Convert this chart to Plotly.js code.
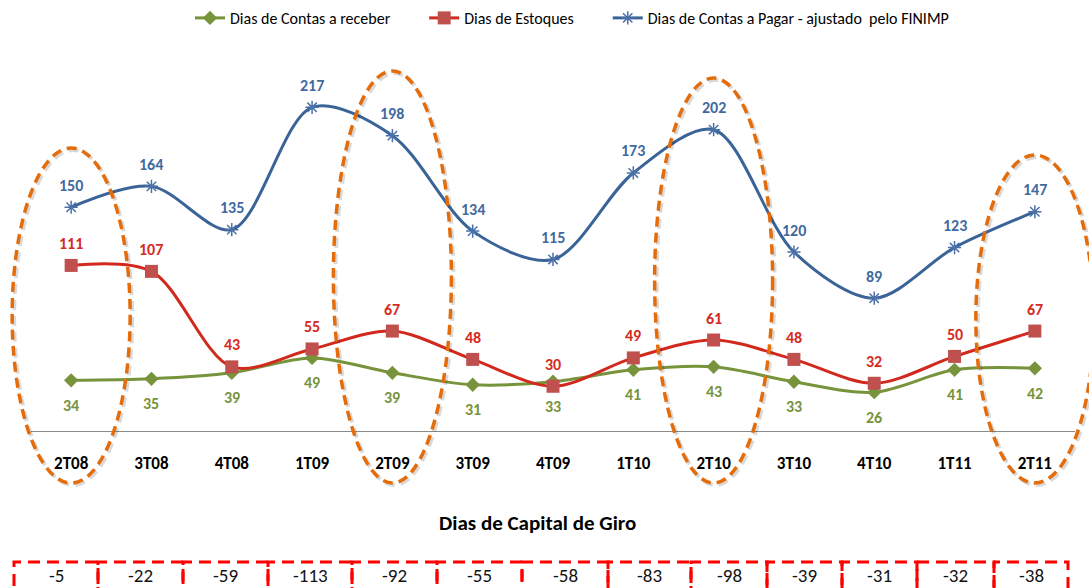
<!DOCTYPE html>
<html>
<head>
<meta charset="utf-8">
<script src="https://cdn.plot.ly/plotly-3.0.1.min.js"></script>
<style>
  html, body { margin: 0; padding: 0; background: #fff; }
  #chart { width: 1089px; height: 588px; }
</style>
</head>
<body>
<div id="chart"></div>
<script>
// quarters and the three series (days)
const quarters = ["2T08", "3T08", "4T08", "1T09", "2T09", "3T09", "4T09",
                  "1T10", "2T10", "3T10", "4T10", "1T11", "2T11"];
const diasReceber = [34, 35, 39, 49, 39, 31, 33, 41, 43, 33, 26, 41, 42];
const diasEstoques = [111, 107, 43, 55, 67, 48, 30, 49, 61, 48, 32, 50, 67];
const diasPagar = [150, 164, 135, 217, 198, 134, 115, 173, 202, 120, 89, 123, 147];
const capitalGiro = [-5, -22, -59, -113, -92, -55, -58, -83, -98, -39, -31, -32, -38];
const destaques = ["2T08", "2T09", "2T10", "2T11"];

// plot area in pixels
const W = 1089, H = 588;
const plotL = 31, plotR = 1075, plotTop = 73, plotBottom = 431;
const yMax = 240;

function px2paperX(px) { return (px - plotL) / (plotR - plotL); }
function px2paperY(py) { return (plotBottom - py) / (plotBottom - plotTop); }

const FONT = "Calibri, Carlito, Lato, sans-serif";

const green = "#77933C", red = "#D2291E", blue = "#3A6498";
const gap = "\u00A0".repeat(8);  // extra room between legend entries

const traces = [
  {
    name: "Dias de Contas a receber" + gap,
    x: quarters, y: diasReceber,
    type: "scatter", mode: "lines+markers",
    line: { color: green, width: 3, shape: "spline", smoothing: 0.9 },
    marker: { symbol: "diamond", size: 11, color: green },
  },
  {
    name: "Dias de Estoques" + gap,
    x: quarters, y: diasEstoques,
    type: "scatter", mode: "lines+markers",
    line: { color: red, width: 3, shape: "spline", smoothing: 0.9 },
    marker: { symbol: "square", size: 13, color: "#C0504D" },
  },
  {
    name: "Dias de Contas a Pagar - ajustado  pelo FINIMP",
    x: quarters, y: diasPagar,
    type: "scatter", mode: "lines+markers",
    line: { color: blue, width: 3, shape: "spline", smoothing: 0.9 },
    marker: { symbol: "asterisk-open", size: 11, color: "#4A70A8", line: { width: 1.5, color: "#4A70A8" } },
  },
];

const annotations = [];
function addLabels(values, color, shift) {
  values.forEach((v, i) => {
    annotations.push({
      x: quarters[i], y: v, xref: "x", yref: "y",
      text: String(v), showarrow: false, yshift: shift,
      font: { family: FONT, size: 16, color: color, weight: "bold" },
    });
  });
}
addLabels(diasPagar, "#3F6A9F", 22);
addLabels(diasEstoques, "#D52B1E", 22);
addLabels(diasReceber, green, -25);

annotations.push({
  x: px2paperX(537), y: px2paperY(523), xref: "paper", yref: "paper",
  xanchor: "center", yanchor: "middle",
  text: "<b>Dias de Capital de Giro</b>", showarrow: false,
  font: { family: FONT, size: 21, color: "#000" },
});

// table cells below the chart
const cellEdgesPx = [14, 98, 183, 268, 352, 437, 522, 608, 691, 767, 842, 917, 994, 1068];
const cellTopPx = 562, cellBottomPx = 610, cellTextPx = 575;

const shapes = [];
capitalGiro.forEach((v, i) => {
  const x0 = px2paperX(cellEdgesPx[i]), x1 = px2paperX(cellEdgesPx[i + 1]);
  shapes.push({
    type: "rect", xref: "paper", yref: "paper",
    x0: x0, x1: x1, y0: px2paperY(cellBottomPx), y1: px2paperY(cellTopPx),
    line: { color: "#FF0000", width: 3, dash: "12px,7px" },
  });
  annotations.push({
    x: (x0 + x1) / 2, y: px2paperY(cellTextPx), xref: "paper", yref: "paper",
    xanchor: "center", yanchor: "middle", borderpad: 0,
    text: String(v), showarrow: false,
    font: { family: FONT, size: 19, color: "#111" },
  });
});

// dashed orange ellipses around the highlighted quarters
const ellipseTopPx = [148, 71, 78, 155];
const ellipseBottomPx = 483;
const ellipseHalfPx = 59;
const slot = (plotR - plotL) / quarters.length;
destaques.forEach((q, k) => {
  const cx = plotL + (quarters.indexOf(q) + 0.5) * slot;
  const base = {
    type: "circle", xref: "paper", yref: "paper",
    x0: px2paperX(cx - ellipseHalfPx), x1: px2paperX(cx + ellipseHalfPx),
    y0: px2paperY(ellipseBottomPx), y1: px2paperY(ellipseTopPx[k]),
  };
  // soft shadow
  shapes.push(Object.assign({}, base, {
    x0: px2paperX(cx - ellipseHalfPx + 2), x1: px2paperX(cx + ellipseHalfPx + 2),
    y0: px2paperY(ellipseBottomPx + 2), y1: px2paperY(ellipseTopPx[k] + 2),
    line: { color: "rgba(0,0,0,0.15)", width: 4, dash: "10px,6px" },
  }));
  shapes.push(Object.assign({}, base, {
    line: { color: "#E46C0A", width: 3.5, dash: "10px,6px" },
  }));
});

const layout = {
  width: W, height: H,
  margin: { l: plotL, r: W - plotR, t: plotTop, b: H - plotBottom, pad: 0, autoexpand: false },
  paper_bgcolor: "#fff", plot_bgcolor: "#fff",
  font: { family: FONT, color: "#000" },
  showlegend: true,
  legend: {
    orientation: "h", x: px2paperX(572), xanchor: "center",
    yref: "container", y: 1 - 18 / H, yanchor: "middle",
    font: { family: FONT, size: 16, color: "#000" },
    itemwidth: 30, tracegroupgap: 0,
  },
  xaxis: {
    type: "category", range: [-0.5, quarters.length - 0.5],
    showline: true, linecolor: "#8A8A8A", linewidth: 1,
    showgrid: false, zeroline: false,
    ticks: "outside", ticklen: 17, tickcolor: "rgba(0,0,0,0)",
    tickfont: { family: FONT, size: 17, color: "#000", weight: "bold" },
  },
  yaxis: {
    range: [0, yMax], visible: false, showgrid: false, zeroline: false,
  },
  annotations: annotations,
  shapes: shapes,
};

Plotly.newPlot("chart", traces, layout, { displayModeBar: false, staticPlot: true });
</script>
</body>
</html>
